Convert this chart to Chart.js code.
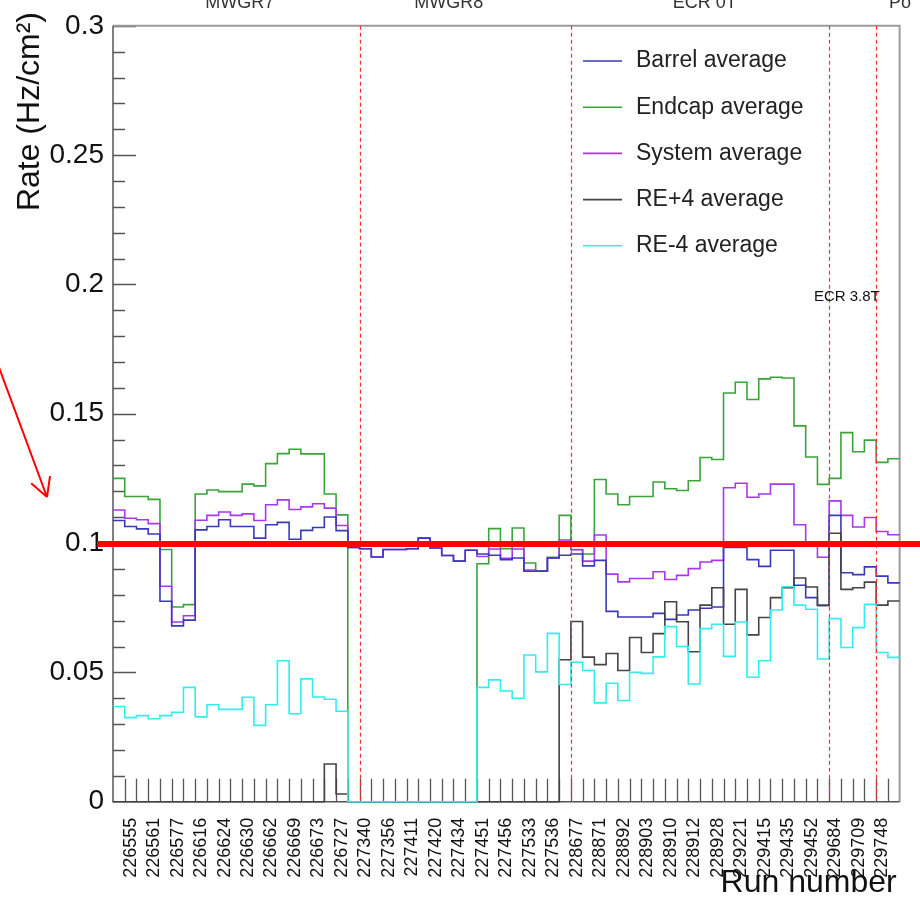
<!DOCTYPE html>
<html lang="en">
<head>
<meta charset="UTF-8">
<title>Rate per run</title>
<script src="https://cdn.jsdelivr.net/npm/chart.js"></script>
<style>
  body { margin: 0; background: #fff; }
  canvas { display: block; }
</style>
</head>
<body>
<canvas id="rates" width="920" height="897"></canvas>
<script>
// run numbers shown under every second bin
const runLabels = ['226555', '226561', '226577', '226616', '226624', '226630', '226662', '226669', '226673',
  '226727', '227340', '227356', '227411', '227420', '227434', '227451', '227456', '227533', '227536',
  '228677', '228871', '228892', '228903', '228910', '228912', '228928', '229221', '229415', '229435',
  '229452', '229684', '229709', '229748'];

// bin contents (Hz/cm2), one value per run bin
const barrel = [0.1087, 0.1064, 0.1055, 0.1035, 0.0775, 0.0680, 0.0702, 0.1051, 0.1064, 0.1090,
  0.1064, 0.1064, 0.1019, 0.1071, 0.1080, 0.1015, 0.1049, 0.1060, 0.1101, 0.1048,
  0.0983, 0.0978, 0.0946, 0.0975, 0.0975, 0.0978, 0.1019, 0.0981, 0.0952, 0.0930,
  0.0972, 0.0958, 0.0953, 0.0936, 0.0942, 0.0891, 0.0891, 0.0942, 0.0953, 0.0958,
  0.0912, 0.0933, 0.0736, 0.0714, 0.0714, 0.0714, 0.0728, 0.0705, 0.0722, 0.0741,
  0.0748, 0.0753, 0.0983, 0.0983, 0.0936, 0.0910, 0.0972, 0.0972, 0.0837, 0.0789,
  0.0759, 0.1107, 0.0885, 0.0878, 0.0908, 0.0872, 0.0846];

const endcap = [0.1250, 0.1180, 0.1180, 0.1169, 0.0975, 0.0753, 0.0762, 0.1190, 0.1205, 0.1199,
  0.1199, 0.1228, 0.1221, 0.1307, 0.1346, 0.1363, 0.1345, 0.1345, 0.1190, 0.1109,
  0, 0, 0, 0, 0, 0, 0, 0, 0, 0,
  0, 0.0920, 0.1056, 0.0978, 0.1058, 0.0923, 0.0893, 0.0945, 0.1107, 0.0975,
  0.0958, 0.1246, 0.1190, 0.1148, 0.1180, 0.1180, 0.1236, 0.1210, 0.1203, 0.1241,
  0.1331, 0.1323, 0.1580, 0.1622, 0.1555, 0.1635, 0.1641, 0.1638, 0.1453, 0.1333,
  0.1227, 0.1250, 0.1427, 0.1353, 0.1398, 0.1312, 0.1326];

const system = [0.1128, 0.1096, 0.1090, 0.1075, 0.0833, 0.0695, 0.0719, 0.1088, 0.1107, 0.1120,
  0.1107, 0.1113, 0.1087, 0.1148, 0.1167, 0.1130, 0.1140, 0.1152, 0.1135, 0.1068,
  0.0983, 0.0978, 0.0946, 0.0975, 0.0975, 0.0978, 0.1019, 0.0981, 0.0952, 0.0930,
  0.0972, 0.0948, 0.0977, 0.0941, 0.0977, 0.0896, 0.0891, 0.0942, 0.1012, 0.0974,
  0.0930, 0.1031, 0.0880, 0.0850, 0.0863, 0.0863, 0.0889, 0.0859, 0.0875, 0.0901,
  0.0927, 0.0933, 0.1214, 0.1231, 0.1177, 0.1190, 0.1228, 0.1228, 0.1071, 0.1003,
  0.0945, 0.1163, 0.1107, 0.1062, 0.1099, 0.1045, 0.1032];

const rePlus4 = [0, 0, 0, 0, 0, 0, 0, 0, 0, 0,
  0, 0, 0, 0, 0, 0, 0, 0, 0.0146, 0.0030,
  0, 0, 0, 0, 0, 0, 0, 0, 0, 0,
  0, 0, 0, 0, 0, 0, 0, 0, 0.0549, 0.0697,
  0.0559, 0.0530, 0.0573, 0.0507, 0.0635, 0.0577, 0.0650, 0.0773, 0.0696, 0.0580,
  0.0760, 0.0827, 0.0686, 0.0821, 0.0645, 0.0712, 0.0789, 0.0827, 0.0865, 0.0830,
  0.0759, 0.1038, 0.0821, 0.0827, 0.0849, 0.0760, 0.0776];

const reMinus4 = [0.0368, 0.0325, 0.0333, 0.0321, 0.0333, 0.0346, 0.0442, 0.0328, 0.0375, 0.0357,
  0.0357, 0.0404, 0.0295, 0.0375, 0.0545, 0.0340, 0.0475, 0.0405, 0.0396, 0.0350,
  0, 0, 0, 0, 0, 0, 0, 0, 0, 0,
  0, 0.0442, 0.0471, 0.0428, 0.0400, 0.0567, 0.0502, 0.0651, 0.0453, 0.0539,
  0.0507, 0.0382, 0.0458, 0.0391, 0.0500, 0.0496, 0.0560, 0.0677, 0.0600, 0.0455,
  0.0669, 0.0686, 0.0562, 0.0695, 0.0481, 0.0545, 0.0741, 0.0831, 0.0760, 0.0744,
  0.0552, 0.0708, 0.0596, 0.0673, 0.0763, 0.0577, 0.0558];

// bin edges where a new data-taking period starts, and the period names
const periodEdges = [21, 39, 61, 65];
const periodNames = ['MWGR7', 'MWGR8', 'ECR 0T', 'Po'];
const refLevel = 0.1;

const nBins = barrel.length;
const FONT = '"Liberation Sans", Arial, Helvetica, sans-serif';

// histogram outline: one point on each low edge, plus the last high edge
function histPoints(values) {
  const pts = values.map((v, i) => ({ x: i, y: v }));
  pts.push({ x: values.length, y: values[values.length - 1] });
  return pts;
}

const series = [
  { label: 'Barrel average', data: barrel, color: '#3a3ab8', order: 2 },
  { label: 'Endcap average', data: endcap, color: '#3aa43a', order: 4 },
  { label: 'System average', data: system, color: '#a837f2', order: 3 },
  { label: 'RE+4 average', data: rePlus4, color: '#444444', order: 1 },
  { label: 'RE-4 average', data: reMinus4, color: '#33eded', order: 0 }
];

const rootFrame = {
  id: 'rootFrame',
  beforeDatasetsDraw(chart) {
    const { ctx, chartArea: a, scales: { x, y } } = chart;
    ctx.save();
    // tick marks inside the frame
    ctx.strokeStyle = '#555';
    ctx.lineWidth = 1.3;
    ctx.beginPath();
    for (let b = 1; b < nBins; b++) {
      const px = Math.round(x.getPixelForValue(b)) + 0.5;
      ctx.moveTo(px, a.bottom);
      ctx.lineTo(px, a.bottom - 23);
    }
    for (let i = 1; i <= 30; i++) {
      const py = Math.round(y.getPixelForValue(i / 100)) + 0.5;
      ctx.moveTo(a.left, py);
      ctx.lineTo(a.left + (i % 5 === 0 ? 23 : 12), py);
    }
    ctx.stroke();

    // frame: light top/right, darker axes
    ctx.strokeStyle = '#9c9c9c';
    ctx.lineWidth = 2;
    ctx.beginPath();
    ctx.moveTo(a.left, a.top);
    ctx.lineTo(a.right, a.top);
    ctx.lineTo(a.right, a.bottom);
    ctx.stroke();
    ctx.strokeStyle = '#555';
    ctx.lineWidth = 1.5;
    ctx.beginPath();
    ctx.moveTo(a.left, a.top);
    ctx.lineTo(a.left, a.bottom);
    ctx.lineTo(a.right, a.bottom);
    ctx.stroke();
    ctx.restore();
  },
  afterDatasetsDraw(chart) {
    const { ctx, chartArea: a, scales: { x, y } } = chart;
    ctx.save();
    // period separators
    ctx.strokeStyle = '#ff3030';
    ctx.lineWidth = 1.2;
    ctx.setLineDash([4, 3]);
    ctx.beginPath();
    periodEdges.forEach(e => {
      const px = Math.round(x.getPixelForValue(e)) + 0.5;
      ctx.moveTo(px, a.top);
      ctx.lineTo(px, a.bottom);
    });
    ctx.stroke();
    ctx.setLineDash([]);

    // legend
    ctx.font = '23px ' + FONT;
    ctx.textBaseline = 'middle';
    ctx.textAlign = 'left';
    series.forEach((s, i) => {
      const ly = 61 + i * 46.2;
      ctx.strokeStyle = s.color;
      ctx.lineWidth = 1.6;
      ctx.beginPath();
      ctx.moveTo(583, ly);
      ctx.lineTo(622, ly);
      ctx.stroke();
      ctx.fillStyle = '#222';
      ctx.fillText(s.label, 636, ly);
    });

    // period names along the top edge
    ctx.fillStyle = '#333';
    ctx.font = '18px ' + FONT;
    ctx.textBaseline = 'alphabetic';
    const namePos = [10.8, 28.6, 50.4, 66.1];
    periodNames.forEach((n, i) => {
      ctx.textAlign = i === 3 ? 'left' : 'center';
      ctx.fillText(n, x.getPixelForValue(namePos[i]), 8);
    });
    ctx.font = '15px ' + FONT;
    ctx.textAlign = 'left';
    ctx.fillStyle = '#111';
    ctx.fillText('ECR 3.8T', x.getPixelForValue(59.7), y.getPixelForValue(0.1935));

    // axis titles
    ctx.fillStyle = '#111';
    ctx.font = '32px ' + FONT;
    ctx.textAlign = 'right';
    ctx.fillText('Run number', a.right - 3, 892);
    ctx.save();
    ctx.translate(30, 12);
    ctx.rotate(-Math.PI / 2);
    ctx.font = '32px ' + FONT;
    ctx.textBaseline = 'middle';
    ctx.fillText('Rate (Hz/cm\u00b2)', 0, 0);
    ctx.restore();
    ctx.restore();
  },
  afterDraw(chart) {
    const { ctx, scales: { y } } = chart;
    ctx.save();
    // reference level
    const py = y.getPixelForValue(refLevel) + 1;
    ctx.strokeStyle = '#ff0000';
    ctx.lineWidth = 6;
    ctx.beginPath();
    ctx.moveTo(97, py);
    ctx.lineTo(chart.width, py);
    ctx.stroke();

    // arrow pointing at the level
    const x0 = -3, y0 = 362, x1 = 47, y1 = 497;
    const ang = Math.atan2(y1 - y0, x1 - x0);
    ctx.lineWidth = 2;
    ctx.beginPath();
    ctx.moveTo(x0, y0);
    ctx.lineTo(x1, y1);
    [-0.5, 0.5].forEach(d => {
      ctx.moveTo(x1, y1);
      ctx.lineTo(x1 - 21 * Math.cos(ang + d), y1 - 21 * Math.sin(ang + d));
    });
    ctx.stroke();
    ctx.restore();
  }
};

new Chart(document.getElementById('rates'), {
  type: 'line',
  data: {
    datasets: series.map(s => ({
      label: s.label,
      data: histPoints(s.data),
      borderColor: s.color,
      borderWidth: 1.6,
      stepped: 'before',
      pointRadius: 0,
      fill: false,
      clip: false,
      order: s.order
    }))
  },
  options: {
    responsive: false,
    animation: false,
    layout: { padding: { top: 22, right: 17, left: 0, bottom: 0 } },
    plugins: { legend: { display: false }, tooltip: { enabled: false } },
    scales: {
      x: {
        type: 'linear',
        min: 0,
        max: nBins,
        bounds: 'data',
        grid: { display: false, drawTicks: false },
        border: { display: false },
        ticks: {
          autoSkip: false,
          minRotation: 90,
          maxRotation: 90,
          padding: 16,
          color: '#111',
          font: { family: FONT, size: 18 },
          callback: (v, i) => runLabels[i]
        },
        afterBuildTicks: s => { s.ticks = runLabels.map((r, i) => ({ value: 2 * i + 1.5 })); },
        afterFit: s => { s.height = 95.3; }
      },
      y: {
        min: 0,
        max: 0.3,
        grid: { display: false, drawTicks: false },
        border: { display: false },
        ticks: {
          stepSize: 0.05,
          padding: 9,
          color: '#111',
          font: { family: FONT, size: 28 },
          callback: v => String(+v.toFixed(2))
        },
        afterFit: s => { s.width = 113; }
      }
    }
  },
  plugins: [rootFrame]
});
</script>
</body>
</html>
